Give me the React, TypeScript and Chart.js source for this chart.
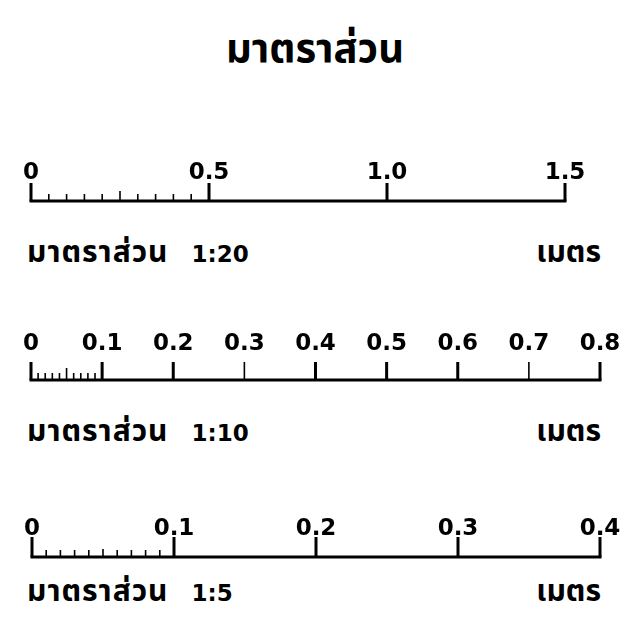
import React, { useEffect, useRef } from "react";
import { Chart, registerables } from "chart.js";

Chart.register(...registerables);

const TITLE = "มาตราส่วน";
const UNIT = "เมตร";

// Scale bar 1 : 20
const ratio20 = "1:20";
const major20 = [0, 0.5, 1.0, 1.5];
const labels20 = ["0", "0.5", "1.0", "1.5"];
const minor20 = [0.05, 0.1, 0.15, 0.2, 0.25, 0.3, 0.35, 0.4, 0.45];
const thin20: number[] = [];

// Scale bar 1 : 10
const ratio10 = "1:10";
const major10 = [0, 0.1, 0.2, 0.3, 0.4, 0.5, 0.6, 0.7, 0.8];
const labels10 = ["0", "0.1", "0.2", "0.3", "0.4", "0.5", "0.6", "0.7", "0.8"];
const minor10 = [0.01, 0.02, 0.03, 0.04, 0.05, 0.06, 0.07, 0.08, 0.09];
const thin10 = [0.3, 0.7];

// Scale bar 1 : 5
const ratio5 = "1:5";
const major5 = [0, 0.1, 0.2, 0.3, 0.4];
const labels5 = ["0", "0.1", "0.2", "0.3", "0.4"];
const minor5 = [0.01, 0.02, 0.03, 0.04, 0.05, 0.06, 0.07, 0.08, 0.09];
const thin5: number[] = [];

const THAI_FONT = '"Noto Sans Thai", "Noto Sans", "DejaVu Sans", sans-serif';
const NUM_FONT = '"DejaVu Sans", "Liberation Sans", sans-serif';
const LABEL_AREA = 34;

type BarProps = {
  baseline: number;
  left: number;
  right: number;
  tickH: number;
  minorH: number;
  midH: number;
  gap: number;
  major: number[];
  labels: string[];
  minor: number[];
  thin: number[];
};

function ticksData(values: number[], h: (v: number, i: number) => number) {
  const out: { x: number; y: number | null }[] = [];
  values.forEach((v, i) => {
    out.push({ x: v, y: 0 });
    out.push({ x: v, y: h(v, i) });
    out.push({ x: v, y: null });
  });
  return out;
}

function ScaleBar(p: BarProps) {
  const ref = useRef<HTMLCanvasElement | null>(null);
  const top = p.baseline - p.tickH - LABEL_AREA;
  const height = p.baseline + 6 - top;
  useEffect(() => {
    if (!ref.current) return;
    const max = p.major[p.major.length - 1];
    const thick = p.major.filter((v) => !p.thin.includes(v));
    const thinV = p.major.filter((v) => p.thin.includes(v));
    const midIdx = Math.floor(p.minor.length / 2);
    const labelPlugin = {
      id: "majorLabels",
      afterDatasetsDraw(chart: any) {
        const ctx = chart.ctx;
        const xs = chart.scales.x;
        ctx.save();
        ctx.fillStyle = "#000";
        ctx.font = `bold 23px ${NUM_FONT}`;
        ctx.textAlign = "center";
        ctx.textBaseline = "alphabetic";
        p.major.forEach((v, i) => {
          ctx.fillText(p.labels[i], xs.getPixelForValue(v), chart.chartArea.top - p.gap);
        });
        ctx.restore();
      },
    };
    const chart = new Chart(ref.current, {
      type: "line",
      data: {
        datasets: [
          {
            data: [
              { x: 0, y: 0 },
              { x: max, y: 0 },
            ],
            borderColor: "#000",
            borderWidth: 3,
            borderCapStyle: "square",
            pointRadius: 0,
            clip: false,
          },
          {
            data: ticksData(thick, () => p.tickH),
            borderColor: "#000",
            borderWidth: 3,
            pointRadius: 0,
            spanGaps: false,
            clip: false,
          },
          {
            data: ticksData(thinV, () => p.tickH),
            borderColor: "#000",
            borderWidth: 1.6,
            pointRadius: 0,
            spanGaps: false,
            clip: false,
          },
          {
            data: ticksData(p.minor, (_v, i) => (i === midIdx ? p.midH : p.minorH)),
            borderColor: "#000",
            borderWidth: 1.6,
            pointRadius: 0,
            spanGaps: false,
            clip: false,
          },
        ],
      },
      options: {
        animation: false,
        responsive: false,
        events: [],
        layout: {
          padding: { left: p.left, right: 637 - p.right, top: LABEL_AREA, bottom: 6 },
        },
        plugins: { legend: { display: false }, tooltip: { enabled: false }, title: { display: false } },
        scales: {
          x: { type: "linear", display: false, min: 0, max: max },
          y: { display: false, min: 0, max: p.tickH },
        },
      },
      plugins: [labelPlugin],
    } as any);
    return () => chart.destroy();
  }, []);
  return (
    <canvas
      ref={ref}
      width={637}
      height={height}
      style={{ position: "absolute", left: 0, top, width: 637, height }}
    />
  );
}

function Caption({ top, ratio }: { top: number; ratio: string }) {
  const style: React.CSSProperties = {
    position: "absolute",
    top,
    fontFamily: THAI_FONT,
    fontWeight: "bold",
    fontSize: 30,
    lineHeight: "34px",
    color: "#000",
    whiteSpace: "nowrap",
  };
  return (
    <>
      <div style={{ ...style, left: 27 }}>
        <span style={{ letterSpacing: 1 }}>{TITLE}</span>
        <span style={{ fontFamily: NUM_FONT, fontSize: 23, marginLeft: 23 }}>{ratio}</span>
      </div>
      <div style={{ ...style, right: 36 }}>{UNIT}</div>
    </>
  );
}

export default function App() {
  return (
    <div style={{ position: "absolute", left: 0, top: 0, width: 637, height: 630, background: "#fff", overflow: "hidden" }}>
      <div
        style={{
          position: "absolute",
          top: 24,
          left: 0,
          width: 630,
          textAlign: "center",
          fontFamily: THAI_FONT,
          fontWeight: "bold",
          fontSize: 40,
          lineHeight: "52px",
          color: "#000",
        }}
      >
        {TITLE}
      </div>
      <ScaleBar baseline={201} left={31} right={565} tickH={18} minorH={7} midH={10} gap={4} major={major20} labels={labels20} minor={minor20} thin={thin20} />
      <Caption top={236} ratio={ratio20} />
      <ScaleBar baseline={380} left={31} right={600} tickH={18} minorH={7} midH={12} gap={12} major={major10} labels={labels10} minor={minor10} thin={thin10} />
      <Caption top={415} ratio={ratio10} />
      <ScaleBar baseline={557} left={32} right={600} tickH={20} minorH={7} midH={8} gap={2} major={major5} labels={labels5} minor={minor5} thin={thin5} />
      <Caption top={575} ratio={ratio5} />
    </div>
  );
}
